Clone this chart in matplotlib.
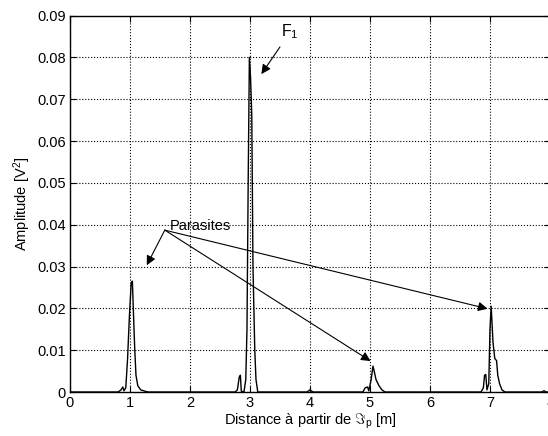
import matplotlib.pyplot as plt
import numpy as np

plt.rcParams['font.family'] = ['Liberation Sans', 'DejaVu Sans']
plt.rcParams['mathtext.fontset'] = 'custom'
plt.rcParams['mathtext.rm'] = 'Liberation Sans'
plt.rcParams['mathtext.it'] = 'Liberation Sans'

# spectrum (distance in m, amplitude in V^2)
dist = [0.00, 0.80, 0.85, 0.88, 0.90, 0.93, 0.96, 0.99, 1.02, 1.04, 1.06, 1.08, 1.10,
        1.13, 1.18, 1.25, 1.30,
        2.75, 2.79, 2.82, 2.84, 2.855, 2.90, 2.93, 2.95, 2.97, 2.99, 3.01, 3.03, 3.05,
        3.08, 3.10, 3.13,
        3.95, 4.00, 4.05,
        4.88, 4.92, 4.96, 4.98, 5.02, 5.05, 5.07, 5.10, 5.15, 5.20, 5.25,
        6.85, 6.89, 6.91, 6.93, 6.95, 6.98, 7.00, 7.02, 7.05, 7.08, 7.11, 7.13, 7.16,
        7.20, 7.25,
        7.86, 7.90, 7.94, 8.00]
ampl = [0.0, 0.0, 0.0005, 0.0012, 0.0003, 0.001, 0.008, 0.018, 0.026, 0.0265, 0.018, 0.010, 0.004,
        0.0015, 0.0005, 0.0002, 0.0,
        0.0, 0.0005, 0.0035, 0.004, 0.0002, 0.0, 0.003, 0.015, 0.050, 0.080, 0.075, 0.066, 0.030,
        0.010, 0.003, 0.0,
        0.0, 0.0005, 0.0,
        0.0, 0.001, 0.0012, 0.0003, 0.003, 0.0062, 0.005, 0.003, 0.0015, 0.0005, 0.0,
        0.0, 0.001, 0.004, 0.0042, 0.0005, 0.002, 0.015, 0.0205, 0.012, 0.008, 0.0075, 0.004, 0.002,
        0.0005, 0.0,
        0.0, 0.0003, 0.0, 0.0]

xticks = [0, 1, 2, 3, 4, 5, 6, 7, 8]
yticks = [0, 0.01, 0.02, 0.03, 0.04, 0.05, 0.06, 0.07, 0.08, 0.09]
ytick_labels = ['0', '0.01', '0.02', '0.03', '0.04', '0.05', '0.06', '0.07', '0.08', '0.09']

fig = plt.figure(figsize=(5.48, 4.36), dpi=100)
# right edge slightly past the figure: the reference is cropped at x = 8
ax = fig.add_axes([0.1277, 0.1009, 0.8759, 0.8635])
ax.plot(dist, ampl, color='black', lw=1.0)

ax.set_xlim(0, 8)
ax.set_ylim(0, 0.09)
ax.set_xticks(xticks)
ax.set_yticks(yticks)
ax.set_yticklabels(ytick_labels)
ax.tick_params(direction='in', top=True, right=True, labelsize=10.5, length=4, pad=3)
ax.grid(True, color='black', linestyle=':', lw=0.8)
for s in ax.spines.values():
    s.set_linewidth(1.0)

ax.set_xlabel(r'Distance à partir de $\Im_{p}$ [m]', fontsize=10.5, labelpad=1)
ax.set_ylabel(r'Amplitude [V$^{2}$]', fontsize=10.5, labelpad=3)

arw = dict(arrowstyle='-|>', color='black', lw=0.8, mutation_scale=14, shrinkA=0, shrinkB=0)
ax.text(3.52, 0.0862, r'F$_{1}$', fontsize=11.5, va='center')
ax.annotate('', xy=(3.19, 0.0760), xytext=(3.50, 0.0825), arrowprops=arw)

ax.text(1.67, 0.0397, 'Parasites', fontsize=10.5, va='center')
ax.annotate('', xy=(1.28, 0.0303), xytext=(1.58, 0.0387), arrowprops=arw)
ax.annotate('', xy=(5.01, 0.0074), xytext=(1.58, 0.0387), arrowprops=arw)
ax.annotate('', xy=(6.96, 0.0199), xytext=(1.58, 0.0387), arrowprops=arw)

fig.savefig('out.png', dpi=100)
